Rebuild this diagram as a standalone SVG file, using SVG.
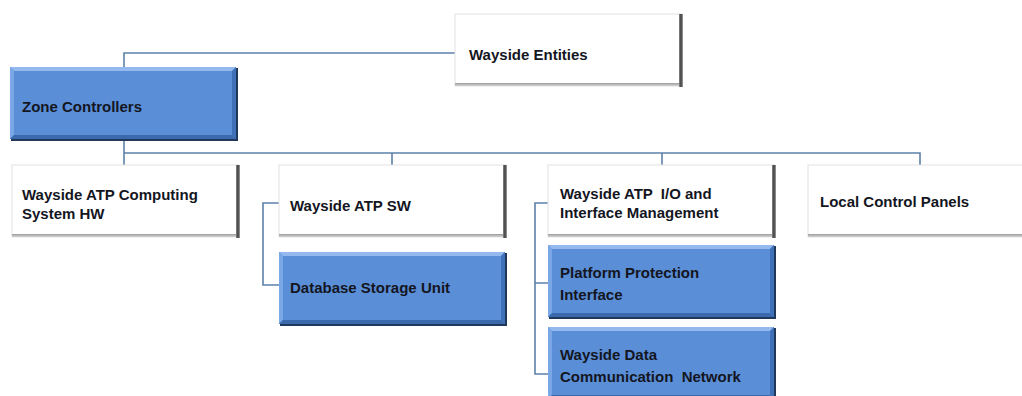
<svg xmlns="http://www.w3.org/2000/svg" xmlns:xlink="http://www.w3.org/1999/xlink" width="1022" height="396" viewBox="0 0 1022 396">
  <style>
    .lbl { font-family: "Liberation Sans", Arial, sans-serif; font-weight: bold; font-size: 15px; fill: #14161f; }
    .conn { fill: none; stroke: #5d81aa; stroke-width: 1.6; }
  </style>
  <defs>
    <linearGradient id="rightShade" x1="0" y1="0" x2="1" y2="0">
      <stop offset="0" stop-color="#8a8a8a"/>
      <stop offset="0.5" stop-color="#3c3c3c"/>
      <stop offset="1" stop-color="#a5a5a5"/>
    </linearGradient>
    <linearGradient id="bottomShade" x1="0" y1="0" x2="0" y2="1">
      <stop offset="0" stop-color="#9c9c9c"/>
      <stop offset="1" stop-color="#d4d4d4"/>
    </linearGradient>
    <!-- white box with grey drop edge on the right and bottom -->
    <g id="whiteBox">
      <rect x="0" y="0" width="227" height="72" fill="#ffffff" stroke="#e2e2e2" stroke-width="1"/>
      <rect x="0" y="69" width="227" height="3" fill="url(#bottomShade)"/>
      <rect x="224" y="0" width="4" height="73" fill="url(#rightShade)"/>
    </g>
    <!-- blue bevelled box with a dark outer edge -->
    <g id="blueBox">
      <rect x="1" y="1" width="227" height="73" fill="#22385a"/>
      <rect x="0" y="0" width="226" height="72" fill="#5a8ed7"/>
      <polygon points="0,0 226,0 222,4 4,4" fill="#93b9ef"/>
      <polygon points="0,0 4,4 4,68 0,72" fill="#7aa7e6"/>
      <polygon points="226,0 226,72 222,68 222,4" fill="#3f71b9"/>
      <polygon points="0,72 226,72 222,68 4,68" fill="#3b69ae"/>
    </g>
  </defs>

  <rect width="1022" height="396" fill="#ffffff"/>

  <g id="connectors">
    <path class="conn" d="M455,53 H124 V67"/>
    <path class="conn" d="M124,140 V165 M124,153 H920 V165 M392,153 V165 M662,153 V165"/>
    <path class="conn" d="M279,203 H263 V285 H279"/>
    <path class="conn" d="M548,203 H535 V374 H548 M535,283 H548"/>
  </g>

  <g id="wayside-entities">
    <use xlink:href="#whiteBox" x="455" y="14"/>
    <text class="lbl" x="469" y="60">Wayside Entities</text>
  </g>

  <g id="zone-controllers">
    <use xlink:href="#blueBox" x="10" y="67"/>
    <text class="lbl" x="22" y="112">Zone Controllers</text>
  </g>

  <g id="atp-computing-hw">
    <use xlink:href="#whiteBox" x="12" y="165"/>
    <text class="lbl" x="22" y="200">Wayside ATP Computing</text>
    <text class="lbl" x="22" y="219">System HW</text>
  </g>

  <g id="atp-sw">
    <use xlink:href="#whiteBox" x="279" y="165"/>
    <text class="lbl" x="290" y="211">Wayside ATP SW</text>
  </g>

  <g id="database-storage-unit">
    <use xlink:href="#blueBox" x="279" y="252"/>
    <text class="lbl" x="290" y="293">Database Storage Unit</text>
  </g>

  <g id="atp-io-interface">
    <use xlink:href="#whiteBox" x="548" y="165"/>
    <text class="lbl" x="560" y="199" xml:space="preserve">Wayside ATP  I/O and</text>
    <text class="lbl" x="560" y="218">Interface Management</text>
  </g>

  <g id="platform-protection">
    <use xlink:href="#blueBox" x="548" y="245"/>
    <text class="lbl" x="560" y="278">Platform Protection</text>
    <text class="lbl" x="560" y="300">Interface</text>
  </g>

  <g id="data-communication-network">
    <use xlink:href="#blueBox" x="548" y="327"/>
    <text class="lbl" x="560" y="360">Wayside Data</text>
    <text class="lbl" x="560" y="382" xml:space="preserve">Communication  Network</text>
  </g>

  <g id="local-control-panels">
    <use xlink:href="#whiteBox" x="808" y="165"/>
    <text class="lbl" x="820" y="207">Local Control Panels</text>
  </g>
</svg>
